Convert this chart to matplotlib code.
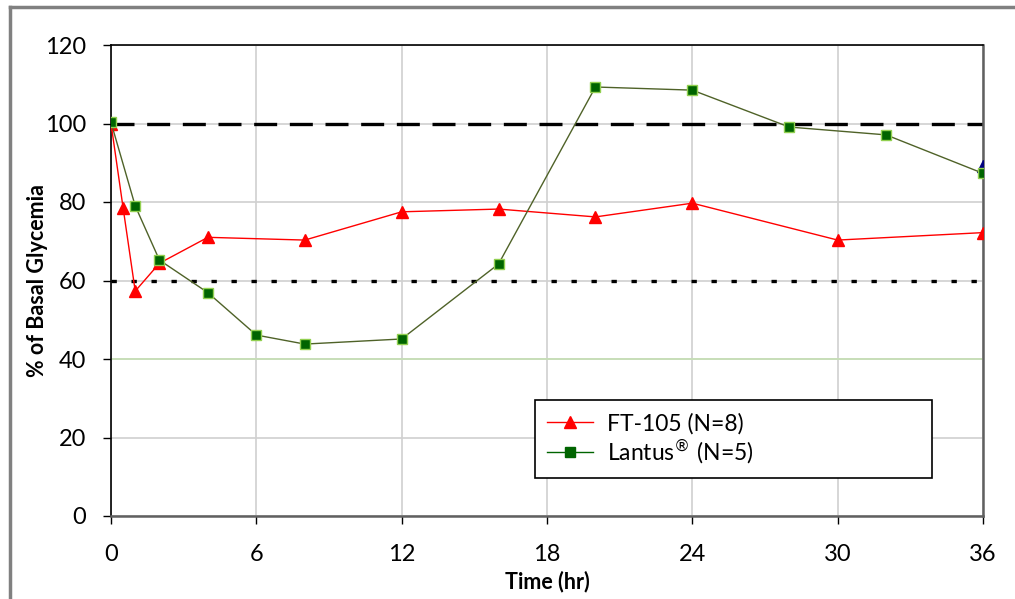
import matplotlib
matplotlib.use("Agg")
import matplotlib.pyplot as plt
from matplotlib.lines import Line2D

plt.rcParams["font.family"] = ["Lato", "DejaVu Sans"]

# FT-105 (N=8)
ft_time = [0, 0.5, 1, 2, 4, 8, 12, 16, 20, 24, 30, 36]
ft_glyc = [100, 78.5, 57.3, 64.4, 71.0, 70.3, 77.5, 78.2, 76.2, 79.7, 70.3, 72.2]

# Lantus (N=5)
la_time = [0, 1, 2, 4, 6, 8, 12, 16, 20, 24, 28, 32, 36]
la_glyc = [100.3, 79.0, 65.2, 56.9, 46.1, 43.8, 45.1, 64.2, 109.3, 108.5, 99.1, 97.1, 87.3]

# single point hidden behind the last Lantus marker
extra_time = [36]
extra_glyc = [89.2]

upper_ref = 100
lower_ref = 60
floor_ref = 40

x_ticks = [0, 6, 12, 18, 24, 30, 36]
y_ticks = [0, 20, 40, 60, 80, 100, 120]

fig = plt.figure(figsize=(10.15, 5.99), dpi=100)
ax = fig.add_axes([111 / 1015, 1 - 516 / 599, 872 / 1015, 471 / 599])

ax.set_xlim(0, 36)
ax.set_ylim(0, 120)
ax.set_xticks(x_ticks)
ax.set_yticks(y_ticks)
ax.grid(True, color="#d0d0d0", linewidth=1.2)
ax.set_axisbelow(True)

ax.axhline(upper_ref, color="black", linewidth=2.4, dashes=(6.9, 3.8), zorder=2)
ax.axhline(lower_ref, color="black", linewidth=2.4, dashes=(1.6, 4.4), zorder=2)
ax.axhline(floor_ref, color="#c6e0b4", linewidth=1.2, zorder=2)

ax.plot(ft_time, ft_glyc, color="red", linewidth=1, marker="^", markersize=8,
        markerfacecolor="red", markeredgecolor="red", label="FT-105 (N=8)", zorder=3)
ax.plot(extra_time, extra_glyc, linestyle="none", marker="^", markersize=8,
        markerfacecolor="#000080", markeredgecolor="#000080", zorder=3)
ax.plot(la_time, la_glyc, color="#4f6228", linewidth=1, marker="s", markersize=6.5,
        markerfacecolor="#006400", markeredgecolor="#92d050", markeredgewidth=1,
        label="Lantus (N=5)", zorder=4)

for s in ["left", "top"]:
    ax.spines[s].set_color("black")
    ax.spines[s].set_linewidth(1.2)
for s in ["right", "bottom"]:
    ax.spines[s].set_color("#606060")
    ax.spines[s].set_linewidth(1.8)

ax.tick_params(axis="both", direction="out", length=6, width=1, labelsize=17,
               colors="black")
ax.tick_params(axis="x", pad=14)
ax.tick_params(axis="y", pad=12)

ax.set_xlabel("Time (hr)", fontsize=15.5, fontweight="bold")
ax.set_ylabel("% of Basal Glycemia", fontsize=15.5, fontweight="bold")
ax.xaxis.set_label_coords(0.5, -0.115)
ax.yaxis.set_label_coords(-0.0725, 0.5)

leg_handles = [
    Line2D([], [], color="red", linewidth=1, marker="^", markersize=8,
           markerfacecolor="red", markeredgecolor="red"),
    Line2D([], [], color="#006400", linewidth=1, marker="s", markersize=6.5,
           markerfacecolor="#006400", markeredgecolor="#006400"),
]
leg = ax.legend(leg_handles, ["FT-105 (N=8)", "Lantus$^{\\circledR}$ (N=5)"],
                loc="lower left", bbox_to_anchor=(0.486, 0.08, 0.4555, 0.168),
                mode="expand", fontsize=16.5, frameon=True, fancybox=False,
                edgecolor="black", framealpha=1, handlelength=2.0,
                handletextpad=0.6, borderaxespad=0, labelspacing=0.15,
                borderpad=0.55)
leg.get_frame().set_linewidth(1.2)

# outer border of the chart area
fig.add_artist(Line2D([9.5 / 1015, 9.5 / 1015], [0, 1 - 6.5 / 599],
                      transform=fig.transFigure, color="#808080", linewidth=2.5))
fig.add_artist(Line2D([9.5 / 1015, 1], [1 - 6.5 / 599, 1 - 6.5 / 599],
                      transform=fig.transFigure, color="#808080", linewidth=2.5))

fig.savefig("out.png", dpi=100)
